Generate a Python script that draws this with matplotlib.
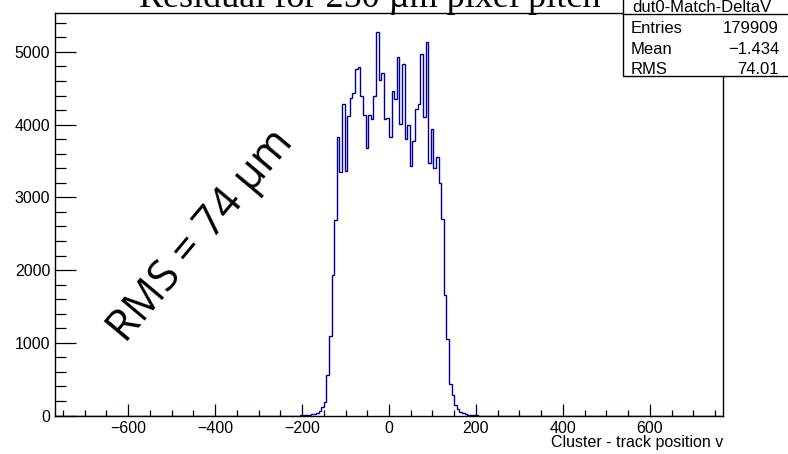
import numpy as np
import matplotlib
matplotlib.use("Agg")
import matplotlib.pyplot as plt
from matplotlib.patches import Rectangle
from matplotlib.ticker import MultipleLocator

# ---- data ----
hist_name = "dut0-Match-DeltaV"
title = "Residual for 250 \u00b5m pixel pitch"
xlabel = "Cluster - track position v"
annotation = "RMS = 74 \u00b5m"
stat_labels = ["Entries", "Mean", "RMS"]
stat_values = ["179909", "\u22121.434", "74.01"]

x_low, x_high, n_bins = -768, 768, 256
core_start = -204  # lower edge of first non-empty bin
core_counts = [
    3, 5, 8, 12, 16, 25, 40, 66, 115, 185,
    560, 1100, 1930, 2690, 3827, 3354, 4280, 3368, 4120, 4363,
    4432, 4762, 4798, 4395, 4133, 3684, 4133, 4074, 4395, 5271,
    4615, 4707, 4074, 4097, 3827, 4463, 4349, 4936, 4010, 4830,
    3803, 3996, 3437, 3776, 4212, 4280, 4977, 4102, 5142, 3469,
    3941, 3400, 3560, 3198, 2703, 1657, 1048, 435, 280, 140,
    88, 55, 30, 18, 12, 7, 4, 2,
]

xticks_major = [-600, -400, -200, 0, 200, 400, 600]
yticks_major = [0, 1000, 2000, 3000, 4000, 5000]

# ---- build histogram ----
edges = np.linspace(x_low, x_high, n_bins + 1)
counts = np.zeros(n_bins)
bw = (x_high - x_low) / n_bins
i0 = int(round((core_start - x_low) / bw))
counts[i0:i0 + len(core_counts)] = core_counts

W, H = 788, 454
fig = plt.figure(figsize=(W / 100, H / 100), dpi=100)
plt.rcParams['font.family'] = ['Liberation Sans', 'DejaVu Sans']

L, R, B, T = 55, 723, 415.5, 13
ax = fig.add_axes([L / W, 1 - B / H, (R - L) / W, (B - T) / H])
ax.stairs(counts, edges, color='#000099', lw=1.0)
ax.set_xlim(x_low, x_high)
ax.set_ylim(0, counts.max() * 1.05)

ax.set_xticks(xticks_major)
ax.set_yticks(yticks_major)
ax.xaxis.set_minor_locator(MultipleLocator(50))
ax.yaxis.set_minor_locator(MultipleLocator(200))
ax.set_xticklabels([str(v).replace('-', '\u2212') for v in xticks_major])
ax.tick_params(axis='both', which='both', direction='in', top=False, right=False,
               labelsize=11.5, width=0.9, color='black')
ax.tick_params(axis='x', which='major', length=8.6, pad=4)
ax.tick_params(axis='x', which='minor', length=4.3)
ax.tick_params(axis='y', which='major', length=15, pad=3.5)
ax.tick_params(axis='y', which='minor', length=7.7)
for s in ax.spines.values():
    s.set_linewidth(1.0)

fig.text(R / W, 1 - 443 / H, xlabel, ha='right', va='center', fontsize=11.5)

# title (partly cut off at top)
fig.text(370 / W, 1 - 7 / H, title, ha='center', va='baseline', fontsize=26,
         family=['Liberation Serif', 'DejaVu Serif'])

# rotated annotation
fig.text(201 / W, 1 - 236 / H, annotation, ha='center', va='center', fontsize=31,
         rotation=50, rotation_mode='anchor', family=['Open Sans', 'DejaVu Sans'])

# stats box
bx0, by0 = 623, 76
fig.add_artist(Rectangle((bx0 / W, 1 - by0 / H), (W + 5 - bx0) / W, by0 / H + 0.02,
                         transform=fig.transFigure, facecolor='white', edgecolor='black',
                         lw=1.0, zorder=5))
fig.add_artist(plt.Line2D([bx0 / W, 1.0], [1 - 14 / H, 1 - 14 / H],
                          transform=fig.transFigure, color='black', lw=1.0, zorder=6))
fig.text(702 / W, 1 - 12 / H, hist_name, ha='center', va='baseline', fontsize=12, zorder=7)
for lab, val, yb in zip(stat_labels, stat_values, [33, 53.5, 73.5]):
    fig.text(631 / W, 1 - yb / H, lab, ha='left', va='baseline', fontsize=12, zorder=7)
    fig.text(779 / W, 1 - yb / H, val, ha='right', va='baseline', fontsize=12, zorder=7)

fig.savefig('out.png', dpi=100)
